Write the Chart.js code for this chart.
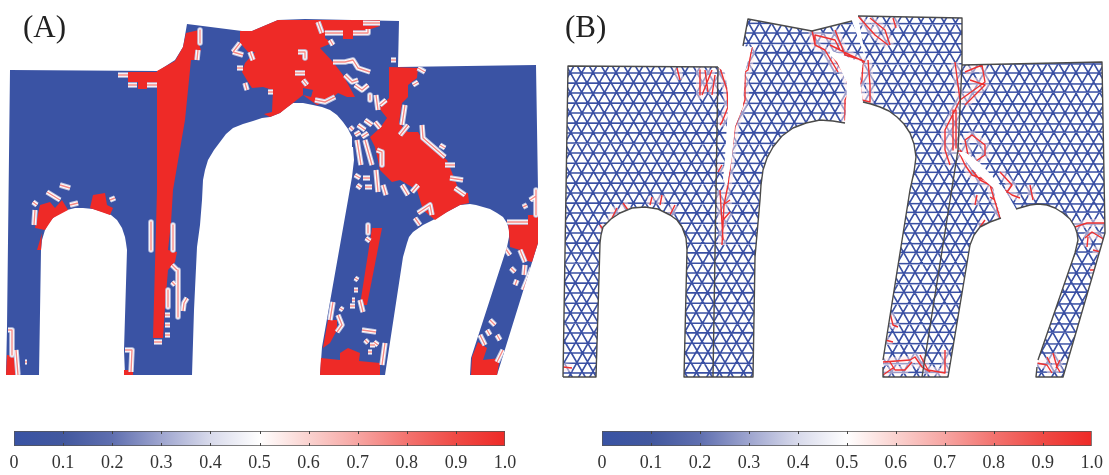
<!DOCTYPE html>
<html>
<head>
<meta charset="utf-8">
<script src="https://cdn.jsdelivr.net/npm/chart.js@4"></script>
<style>
  body { margin: 0; background: #fff; width: 1109px; height: 475px; overflow: hidden; position: relative; }
  canvas { position: absolute; display: block; }
  #fields { filter: blur(0.4px); }
  .tag { position: absolute; font: 31px/31px "Liberation Serif", serif; color: #222; top: 11px; }
</style>
</head>
<body>
<canvas id="fields" width="1109" height="475" style="left:0;top:0"></canvas>
<canvas id="barA" width="560" height="55" style="left:0;top:420px"></canvas>
<canvas id="barB" width="549" height="55" style="left:560px;top:420px"></canvas>
<div class="tag" style="left:23px">(A)</div>
<div class="tag" style="left:565px">(B)</div>
<script>
// colour scale
const tickLabels = ['0', '0.1', '0.2', '0.3', '0.4', '0.5', '0.6', '0.7', '0.8', '0.9', '1.0'];
const tickValues = [0, 0.1, 0.2, 0.3, 0.4, 0.5, 0.6, 0.7, 0.8, 0.9, 1];
const scaleColors = ['#3953a4', '#42589f', '#5f6fb0', '#9ea5cf', '#d8daeb', '#ffffff', '#fad2cf', '#f7a5a2', '#f3736f', '#ef4a45', '#ee2a27'];
const BLUE = '#3a53a4', RED = '#ee2a27';

// panel A : damage field, picture coordinates
const outlineA = [[10,70],[158,71],[175,60],[183,47],[187,24],[242,31],[252,31],[278,20],[305,19],[399,21],[398,67],[536,65],[538,190],[538,243],[497,375],[470,375],[471,358],[507,247],[509,237],[509,230],[507,223],[503,217],[497,213],[490,209],[483,207],[476,205],[470,204],[460,205],[447,212],[437,218],[423,225],[413,232],[409,237],[407,243],[405,250],[403,257],[385,375],[320,375],[322,347],[348,200],[352,177],[354,160],[353,147],[352,137],[348,129],[343,122],[337,115],[330,110],[322,107],[313,105],[303,103],[293,103],[286,108],[280,113],[270,117],[262,118],[253,121],[243,124],[233,128],[226,134],[220,142],[214,150],[208,160],[205,170],[203,180],[202,200],[200,225],[197,247],[194,310],[192,375],[125,375],[124,350],[127,250],[126,243],[125,237],[122,228],[117,220],[111,215],[103,212],[93,209],[83,208],[75,208],[67,210],[60,213],[53,218],[48,224],[45,230],[42,240],[41,250],[39,375],[6,375],[7,327]];
const redColumn = [[157,71],[175,61],[183,47],[186,33],[199,30],[199,44],[201,50],[196,60],[191,60],[185,120],[173,190],[171,223],[168,250],[177,252],[175,262],[168,270],[165,307],[163,338],[153,338],[157,190]];
const redTop = [[240,31],[252,31],[278,20],[380,20],[380,26],[368,30],[368,35],[353,36],[353,39],[343,39],[343,33],[325,33],[325,38],[332,43],[320,48],[333,62],[343,75],[355,97],[347,97],[338,93],[330,100],[317,105],[310,100],[303,95],[293,103],[280,113],[270,117],[264,114],[272,112],[273,90],[263,87],[252,88],[248,82],[242,72],[245,63],[255,52],[248,52],[240,43]];
const redTower = [[389,67],[418,68],[417,78],[408,85],[408,97],[402,103],[399,123],[408,132],[418,132],[423,140],[447,160],[455,180],[460,193],[468,193],[469,203],[460,205],[447,212],[435,220],[423,210],[417,190],[400,180],[392,182],[380,170],[375,147],[370,137],[380,128],[387,118],[379,108],[389,98]];
const redRightArm = [[538,215],[538,243],[532,262],[523,260],[520,250],[510,247],[509,232],[508,223],[528,223],[528,215]];
const redFootMid = [[320,375],[321,358],[340,360],[340,353],[348,348],[360,353],[359,361],[380,363],[380,375]];
const redSideMid = [[328,320],[337,320],[337,330],[330,343],[323,348]];
const redStrip = [[372,228],[382,228],[367,305],[360,305]];
const redFootRight = [[471,375],[472,357],[478,342],[487,348],[483,360],[500,358],[497,375]];
const redArchL = [[40,205],[50,202],[55,208],[62,200],[68,210],[53,218],[45,230],[35,228]];
const redArchR = [[93,195],[105,193],[107,205],[113,208],[110,215],[90,208]];
const redFootLeft = [[7,355],[15,356],[16,375],[6,375]];
const redShoulder = [[128,72],[157,72],[157,85],[147,85],[147,89],[138,89],[138,82],[128,82]];
const redSliver = [[37,250],[42,233],[41,250]];
const redFootArch = [[124,375],[133,375],[133,370],[124,370]];
const blueSpot = [[303,88],[313,90],[311,97],[303,95]];
const stripesA = [
  [[118,75],[128,75]],[[128,85],[137,85]],[[147,85],[157,85]],[[200,30],[200,43]],[[197,60],[198,50]],
  [[233,52],[240,43]],[[233,52],[243,55]],[[250,52],[253,60]],[[237,68],[243,68]],[[245,83],[247,90]],[[268,92],[273,92]],
  [[363,23],[380,23]],[[325,33],[343,33]],[[353,33],[368,33],[368,29]],[[318,22],[322,33]],[[330,40],[333,45]],
  [[298,52],[305,52],[305,58]],[[295,73],[305,73]],[[303,80],[307,85]],
  [[333,62],[345,62],[353,60],[358,68],[370,72]],[[345,75],[352,82],[358,80]],[[355,85],[362,90],[368,85]],[[370,95],[370,100]],
  [[315,100],[325,102],[335,97]],[[376,95],[378,110]],[[380,105],[386,100]],[[391,60],[396,60]],
  [[405,105],[402,125]],[[418,68],[425,72]],[[413,85],[418,82]],[[400,135],[408,125]],[[422,125],[423,138],[445,157]],
  [[350,127],[353,130]],[[358,125],[365,130]],[[365,120],[372,125]],[[355,135],[360,132]],[[362,137],[368,133]],[[375,122],[380,128]],
  [[357,140],[361,165]],[[365,140],[372,165]],[[377,150],[382,152],[382,165]],[[355,175],[360,178]],[[357,185],[361,188]],
  [[363,178],[370,178]],[[365,187],[372,187]],[[376,170],[378,192]],[[383,185],[386,195]],
  [[440,145],[445,148]],[[445,165],[455,165]],[[450,178],[463,180]],[[455,188],[465,195]],[[402,185],[408,195]],[[412,192],[418,185]],
  [[418,213],[430,205],[432,215]],[[415,218],[420,225]],[[507,222],[528,222]],[[530,200],[536,196]],[[536,190],[536,215]],[[523,207],[527,205]],
  [[368,225],[368,233]],[[366,238],[370,241]],[[355,278],[358,280]],[[354,290],[358,290]],[[352,300],[355,300]],[[350,306],[355,306]],
  [[340,308],[343,310]],[[360,300],[363,312]],[[333,302],[330,320]],[[338,315],[342,325],[337,332]],
  [[362,330],[376,332]],[[365,340],[368,343]],[[374,342],[378,345]],[[385,343],[382,365]],[[370,345],[375,345]],[[368,352],[372,352]],
  [[505,248],[510,255]],[[520,250],[525,262]],[[511,268],[515,272]],[[525,265],[524,275]],[[517,280],[515,285]],[[532,268],[523,290]],
  [[480,335],[485,345]],[[490,320],[495,325]],[[497,335],[500,340]],[[487,330],[490,335]],[[503,350],[497,362]],
  [[33,202],[37,205]],[[35,210],[34,225]],[[47,192],[60,200]],[[70,205],[78,203]],[[110,200],[115,198]],[[60,185],[70,188]],
  [[151,222],[151,250]],[[173,225],[173,250]],[[172,265],[177,270]],[[172,282],[175,285]],[[168,290],[168,307]],[[178,270],[178,317]],
  [[187,298],[184,303],[183,311]],[[165,315],[170,315]],[[165,325],[170,325]],[[165,335],[170,335]],[[154,342],[162,342]],
  [[8,330],[12,330],[12,355]],[[16,350],[18,375]],[[25,362],[27,362]],[[125,350],[132,350],[131,372]]
];

// panel B : mesh and cracks
const outlineB = [[568,66],[718,67],[725,73],[728,93],[728,107],[727,123],[725,157],[723,180],[727,187],[732,157],[735,127],[743,107],[745,72],[752,47],[743,46],[748,19],[812,31],[852,21],[866,60],[858,16],[962,18],[962,65],[1102,62],[1105,233],[1063,377],[1036,377],[1037,367],[1038,360],[1075,253],[1078,240],[1077,233],[1075,227],[1070,219],[1063,213],[1055,208],[1047,205],[1038,204],[1030,205],[1016,209],[1008,195],[1005,190],[980,163],[965,152],[958,152],[973,170],[993,188],[995,197],[1001,218],[990,222],[980,227],[974,235],[970,245],[948,377],[883,377],[883,360],[910,190],[914,172],[916,157],[914,144],[910,133],[904,124],[897,117],[889,111],[880,107],[871,104],[863,102],[860,80],[863,63],[830,50],[830,55],[837,62],[847,83],[845,123],[833,121],[820,120],[806,123],[793,128],[782,136],[773,147],[767,158],[763,170],[761,185],[760,200],[755,257],[753,377],[684,377],[687,250],[686,238],[682,227],[677,220],[670,215],[658,209],[645,207],[632,208],[620,213],[611,219],[603,227],[601,235],[600,243],[596,377],[563,377]];
const meshRows = [[13,13],[23,24],[33,33],[43,44],[53,52],[63,64],[73,73],[83,84],[93,92],[103,104],[113,113],[123,124],[133,132],[143,144],[153,153],[163,164],[173,172],[183,184],[193,193],[203,204],[213,212],[223,224],[233,233],[243,244],[253,252],[263,264],[273,273],[283,284],[293,292],[303,304],[313,313],[323,324],[333,332],[343,344],[353,353],[363,364],[373,372]];
const meshFall = [[350,563],[362,574],[373,587],[385,598],[396,609],[407,621],[419,631],[431,645],[442,655],[454,666],[465,679],[476,689],[488,701],[500,714],[511,724],[523,735],[534,748],[545,758],[557,770],[569,783],[580,793],[592,804],[603,817],[614,827],[626,839],[638,852],[649,862],[661,873],[672,886],[683,896],[695,908],[707,921],[718,931],[730,942],[741,955],[752,965],[764,977],[776,990],[787,1000],[799,1011],[810,1024],[821,1034],[833,1046],[845,1059],[856,1069],[868,1080],[879,1093],[890,1103],[902,1115],[914,1128],[925,1138],[937,1149],[948,1162],[959,1172],[971,1184],[983,1197],[994,1207],[1006,1218],[1017,1231],[1028,1241],[1040,1253],[1052,1266],[1063,1276],[1075,1287],[1086,1300],[1097,1310]];
const meshRise = [[560,347],[572,360],[583,370],[595,381],[606,394],[618,404],[629,416],[641,429],[652,439],[664,450],[675,463],[687,473],[698,485],[710,498],[721,508],[733,519],[744,532],[756,542],[767,554],[779,567],[790,577],[802,588],[813,601],[825,611],[836,623],[848,636],[859,646],[871,657],[882,670],[894,680],[905,692],[917,705],[928,715],[940,726],[951,739],[963,749],[974,761],[986,774],[997,784],[1009,795],[1020,808],[1032,818],[1043,830],[1055,843],[1066,853],[1078,864],[1089,877],[1101,887],[1112,899],[1124,912],[1135,922],[1147,933],[1158,946],[1170,956],[1181,968],[1193,981],[1204,991],[1216,1002],[1227,1015],[1239,1025],[1250,1037],[1262,1050],[1273,1060],[1285,1071],[1296,1084],[1308,1094]];
const edgesB = [
  [[563,377],[568,66],[718,67]],
  [[743,46],[748,19],[812,31],[852,21]],
  [[858,16],[962,18],[962,65],[1102,62],[1105,233],[1063,377],[1036,377],[1037,367]],
  [[1038,360],[1075,253],[1078,240],[1077,233],[1075,227],[1070,219],[1063,213],[1055,208],[1047,205],[1038,204],[1030,205],[1016,209]],
  [[1001,218],[990,222],[980,227],[974,235],[970,245],[948,377],[883,377],[883,367]],
  [[883,360],[910,190],[914,172],[916,157],[914,144],[910,133],[904,124],[897,117],[889,111],[880,107],[871,104],[863,102]],
  [[845,123],[833,121],[820,120],[806,123],[793,128],[782,136],[773,147],[767,158],[763,170],[761,185],[760,200],[755,257],[753,377],[684,377],[687,250],[686,238],[682,227],[677,220],[670,215],[658,209],[645,207],[632,208],[620,213],[611,219],[603,227],[601,235],[600,243],[596,377],[563,377]],
  [[718,67],[713,377]],
  [[962,65],[958,150],[922,377]]
];
const cracksB = [
  [[752,47],[748,70],[745,72],[745,100],[735,127],[732,150],[728,185],[724,205],[722,245]],
  [[728,107],[722,122],[720,125]],[[722,165],[718,172]],[[720,68],[727,90],[728,107]],
  [[812,30],[815,45],[825,50],[832,62],[838,72]],[[815,45],[815,35],[835,40],[840,50]],
  [[835,30],[845,55],[862,60]],[[830,45],[850,55],[865,62]],[[832,55],[845,75],[850,90],[845,100],[845,120]],
  [[863,60],[862,80],[860,85],[862,100],[870,102],[870,85],[868,60]],
  [[858,16],[875,35],[888,45]],[[870,18],[885,30],[890,45]],[[893,18],[896,28]],
  [[955,62],[960,100],[945,130],[945,150],[950,165]],[[960,100],[985,82],[982,65],[965,72]],[[970,80],[985,85],[978,92],[965,105]],
  [[953,110],[953,150]],[[956,110],[956,148]],[[960,150],[975,170],[992,187],[1005,200]],
  [[965,140],[972,135],[985,145],[985,155],[970,165],[965,140]],[[972,170],[980,180],[990,185],[993,195],[1000,218]],
  [[1005,190],[1012,195],[1020,198]],[[1030,185],[1033,200]],[[1000,172],[1012,185],[1005,195]],[[958,150],[965,165],[972,175],[985,180]],
  [[600,225],[605,232]],[[610,222],[617,208]],[[623,203],[628,210]],[[650,205],[652,197]],[[660,205],[662,195]],[[670,215],[675,205]],
  [[720,190],[723,240]],[[723,205],[730,200]],[[723,220],[730,212]],
  [[677,68],[680,80]],[[700,70],[700,95]],[[712,70],[702,95]],[[705,70],[708,92]],[[715,75],[712,95]],
  [[890,313],[893,325],[898,327]],[[885,340],[893,342]],
  [[883,362],[910,360],[915,357],[922,367],[930,372]],[[890,362],[895,370],[905,370],[912,362]],[[920,355],[928,370],[945,373],[945,350]],[[883,375],[893,368]],
  [[1037,363],[1047,365],[1052,373]],[[1047,357],[1050,363]],[[1053,353],[1057,367],[1060,372]],[[1060,360],[1056,368]],
  [[1075,227],[1087,223],[1105,223]],[[1085,238],[1092,232],[1105,240]],[[1093,250],[1105,253]],[[1090,270],[1097,270]],[[1088,237],[1087,247]],
  [[563,367],[572,368]],[[977,195],[975,205]],[[990,197],[995,200]],[[985,220],[980,227]]
];

function pts(list) { return list.map(p => ({ x: p[0], y: p[1] })); }
function polyline(list, color, width, extra) {
  const data = [];
  list.forEach(line => { data.push(...pts(line), { x: null, y: null }); });
  return Object.assign({ data, showLine: true, fill: false, borderColor: color, borderWidth: width, pointRadius: 0, tension: 0, spanGaps: false, borderCapStyle: 'butt', borderJoinStyle: 'round' }, extra);
}
function polygon(list, color, extra) {
  return Object.assign({ data: pts(list), showLine: true, fill: 'shape', backgroundColor: color, borderColor: color, borderWidth: 0, pointRadius: 0, tension: 0 }, extra);
}

const inA = { clipTo: outlineA }, inB = { clipTo: outlineB };
const meshLines = [
  ...meshRows.map(r => [[555, r[0]], [1109, r[1]]]),
  ...meshFall.map(r => [[r[0], 10], [r[1], 380]]),
  ...meshRise.map(r => [[r[0], 10], [r[1], 380]])
];
const painted = [
  polygon(outlineA, BLUE),
  ...[redColumn, redTop, redTower, redRightArm, redFootMid, redSideMid, redStrip, redFootRight, redArchL, redArchR, redFootLeft, redShoulder, redSliver, redFootArch].map(p => polygon(p, RED, inA)),
  polygon(blueSpot, BLUE),
  polyline(stripesA, '#c0c4e0', 5.5, inA),
  polyline(stripesA, '#ffffff', 3.6, inA),
  polyline(stripesA, '#f58a87', 1.4, inA),
  polyline(meshLines, '#3a50a4', 1.65, inB),
  polyline(cracksB, 'rgba(255,236,240,0.5)', 8, inB),
  polyline(cracksB, '#ee3030', 1.4, inB),
  polyline(edgesB, '#4a4a4a', 1.4)
];

// clip a dataset to its outline, through the scales
const clipPlugin = {
  id: 'clipTo',
  beforeDatasetDraw(chart, args) {
    const shape = chart.data.datasets[args.index].clipTo;
    if (!shape) return;
    const { ctx, scales } = chart;
    ctx.save();
    ctx.beginPath();
    shape.forEach((p, i) => {
      const x = scales.x.getPixelForValue(p[0]), y = scales.y.getPixelForValue(p[1]);
      if (i) ctx.lineTo(x, y); else ctx.moveTo(x, y);
    });
    ctx.closePath();
    ctx.clip();
  },
  afterDatasetDraw(chart, args) {
    if (chart.data.datasets[args.index].clipTo) chart.ctx.restore();
  }
};

new Chart(document.getElementById('fields'), {
  type: 'scatter',
  data: { datasets: painted.reverse() }, // first dataset is painted last
  plugins: [clipPlugin],
  options: {
    responsive: false,
    animation: false,
    layout: { padding: 0 },
    plugins: { legend: { display: false }, tooltip: { enabled: false } },
    scales: {
      x: { type: 'linear', min: 0, max: 1109, display: false },
      y: { type: 'linear', min: 0, max: 475, reverse: true, display: false }
    }
  }
});

// small inner ticks of the colour bar
const innerTicks = {
  id: 'innerTicks',
  afterDatasetsDraw(chart) {
    const { ctx, chartArea, scales } = chart;
    ctx.save();
    ctx.strokeStyle = '#444';
    ctx.lineWidth = 1;
    tickValues.slice(1, -1).forEach(v => {
      const x = Math.round(scales.x.getPixelForValue(v)) + 0.5;
      ctx.beginPath();
      ctx.moveTo(x, chartArea.top); ctx.lineTo(x, chartArea.top + 3);
      ctx.moveTo(x, chartArea.bottom - 3); ctx.lineTo(x, chartArea.bottom);
      ctx.stroke();
    });
    ctx.restore();
  }
};

function colorBar(id, left, right) {
  new Chart(document.getElementById(id), {
    type: 'bar',
    data: {
      labels: ['damage'],
      datasets: [{
        data: [[0, 1]],
        barPercentage: 1,
        categoryPercentage: 1,
        borderColor: '#555',
        borderWidth: 1,
        borderSkipped: false,
        backgroundColor(context) {
          const area = context.chart.chartArea;
          if (!area) return BLUE;
          const g = context.chart.ctx.createLinearGradient(area.left, 0, area.right, 0);
          tickValues.forEach((v, i) => g.addColorStop(v, scaleColors[i]));
          return g;
        }
      }]
    },
    plugins: [innerTicks],
    options: {
      indexAxis: 'y',
      responsive: false,
      animation: false,
      layout: { padding: { left, right, top: 11, bottom: 0 } },
      plugins: { legend: { display: false }, tooltip: { enabled: false } },
      scales: {
        y: { display: false },
        x: {
          type: 'linear', min: 0, max: 1,
          border: { display: false },
          grid: { display: false, drawTicks: false },
          afterFit(s) { s.height = 29; },
          ticks: {
            stepSize: 0.1, autoSkip: false, maxRotation: 0, padding: 6, color: '#333',
            font: { family: '"Liberation Serif", serif', size: 18 },
            callback: (v, i) => tickLabels[i]
          }
        }
      }
    }
  });
}
colorBar('barA', 14, 55);
colorBar('barB', 42, 17);
</script>
</body>
</html>
